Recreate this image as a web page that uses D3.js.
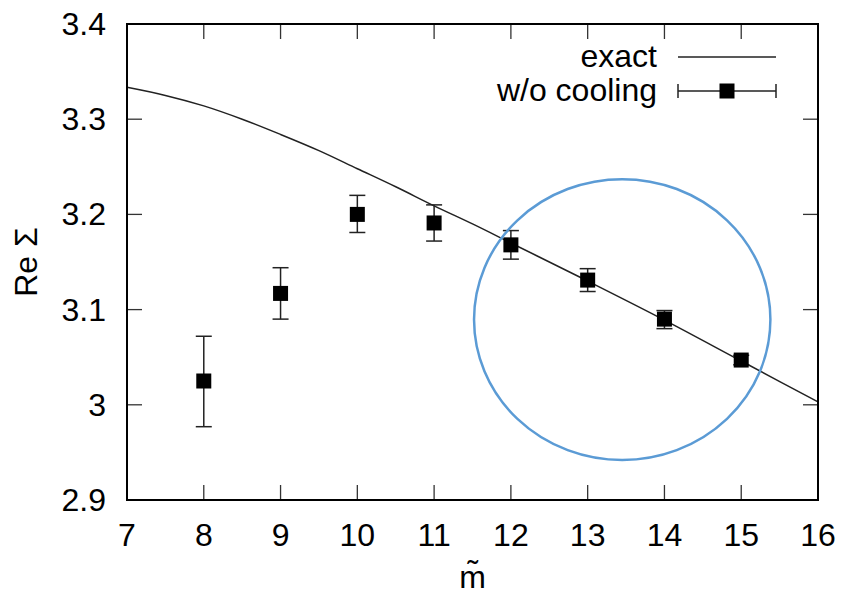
<!DOCTYPE html>
<html>
<head>
<meta charset="utf-8">
<script src="https://cdn.jsdelivr.net/npm/d3@7"></script>
<style>
  body { margin: 0; background: #fff; }
  svg { font-family: "Liberation Sans", Arial, sans-serif; }
</style>
</head>
<body>
<svg width="846" height="597"></svg>
<script>
// Data
var mValues = [8, 9, 10, 11, 12, 13, 14, 15];
var reSigma = [3.025, 3.117, 3.200, 3.191, 3.168, 3.131, 3.090, 3.047];
var errLow = [2.977, 3.090, 3.181, 3.172, 3.153, 3.119, 3.080, 3.042];
var errHigh = [3.072, 3.144, 3.220, 3.210, 3.183, 3.143, 3.099, 3.052];

var exactM = [7, 7.5, 8, 8.5, 9, 9.5, 10, 10.5, 11, 11.5, 12, 13, 14, 15, 16];
var exactRe = [3.3335, 3.325, 3.314, 3.300, 3.284, 3.267, 3.248, 3.229, 3.209, 3.190, 3.170, 3.130, 3.089, 3.046, 3.003];

var xTicks = [7, 8, 9, 10, 11, 12, 13, 14, 15, 16];
var yTicks = [2.9, 3.0, 3.1, 3.2, 3.3, 3.4];

// highlight ellipse in data units: centre m, centre value, half-width, half-height
var ellipse = { m: 13.45, v: 3.0895, rm: 1.93, rv: 0.1475 };

var svg = d3.select("svg");
const width = 846;
const height = 597;
const margin = { top: 24, bottom: 97, left: 127, right: 28 };
const innerW = width - margin.left - margin.right;
const innerH = height - margin.top - margin.bottom;

var xScale = d3.scaleLinear().domain([7, 16]).range([0, innerW]);
var yScale = d3.scaleLinear().domain([2.9, 3.4]).range([innerH, 0]);

var g = svg.append("g").attr("transform", `translate(${margin.left},${margin.top})`);

const fontSize = 32;
const tickLen = 15;

// inward ticks on all four sides
g.selectAll(".xtick-b").data(xTicks.slice(1, -1)).join("line")
  .attr("x1", d => xScale(d)).attr("x2", d => xScale(d))
  .attr("y1", innerH).attr("y2", innerH - tickLen)
  .attr("stroke", "#333").attr("stroke-width", 1.3);
g.selectAll(".xtick-t").data(xTicks.slice(1, -1)).join("line")
  .attr("x1", d => xScale(d)).attr("x2", d => xScale(d))
  .attr("y1", 0).attr("y2", tickLen)
  .attr("stroke", "#333").attr("stroke-width", 1.3);
g.selectAll(".ytick-l").data(yTicks.slice(1, -1)).join("line")
  .attr("x1", 0).attr("x2", tickLen)
  .attr("y1", d => yScale(d)).attr("y2", d => yScale(d))
  .attr("stroke", "#333").attr("stroke-width", 1.3);
g.selectAll(".ytick-r").data(yTicks.slice(1, -1)).join("line")
  .attr("x1", innerW).attr("x2", innerW - tickLen)
  .attr("y1", d => yScale(d)).attr("y2", d => yScale(d))
  .attr("stroke", "#333").attr("stroke-width", 1.3);

// tick labels
g.selectAll(".xlabel").data(xTicks).join("text")
  .attr("x", d => xScale(d)).attr("y", innerH + 46)
  .attr("text-anchor", "middle").attr("font-size", fontSize)
  .text(d => d);
g.selectAll(".ylabel").data(yTicks).join("text")
  .attr("x", -21).attr("y", d => yScale(d) + 11)
  .attr("text-anchor", "end").attr("font-size", fontSize)
  .text(d => (d === 3 ? "3" : d.toFixed(1)));

// axis titles
svg.append("text")
  .attr("transform", `translate(37, ${margin.top + innerH / 2}) rotate(-90)`)
  .attr("text-anchor", "middle").attr("font-size", fontSize)
  .text("Re Σ");
svg.append("text")
  .attr("x", margin.left + innerW / 2).attr("y", 588)
  .attr("text-anchor", "middle").attr("font-size", fontSize)
  .text("m\u0303");

// exact curve
var line = d3.line().x(d => xScale(d[0])).y(d => yScale(d[1])).curve(d3.curveMonotoneX);
g.append("path")
  .datum(exactM.map((m, i) => [m, exactRe[i]]))
  .attr("d", line)
  .attr("fill", "none").attr("stroke", "#222").attr("stroke-width", 1.5);

// error bars
var pts = mValues.map((m, i) => ({ m: m, v: reSigma[i], lo: errLow[i], hi: errHigh[i] }));
const cap = 8;
const sq = 15;
g.selectAll(".err").data(pts).join("line")
  .attr("x1", d => xScale(d.m)).attr("x2", d => xScale(d.m))
  .attr("y1", d => yScale(d.lo)).attr("y2", d => yScale(d.hi))
  .attr("stroke", "#222").attr("stroke-width", 1.5);
g.selectAll(".cap-hi").data(pts).join("line")
  .attr("x1", d => xScale(d.m) - cap).attr("x2", d => xScale(d.m) + cap)
  .attr("y1", d => yScale(d.hi)).attr("y2", d => yScale(d.hi))
  .attr("stroke", "#222").attr("stroke-width", 1.5);
g.selectAll(".cap-lo").data(pts).join("line")
  .attr("x1", d => xScale(d.m) - cap).attr("x2", d => xScale(d.m) + cap)
  .attr("y1", d => yScale(d.lo)).attr("y2", d => yScale(d.lo))
  .attr("stroke", "#222").attr("stroke-width", 1.5);
g.selectAll(".pt").data(pts).join("rect")
  .attr("x", d => xScale(d.m) - sq / 2).attr("y", d => yScale(d.v) - sq / 2)
  .attr("width", sq).attr("height", sq).attr("fill", "#000");

// blue highlight ellipse
g.append("ellipse")
  .attr("cx", xScale(ellipse.m)).attr("cy", yScale(ellipse.v))
  .attr("rx", xScale(ellipse.m + ellipse.rm) - xScale(ellipse.m))
  .attr("ry", yScale(ellipse.v - ellipse.rv) - yScale(ellipse.v))
  .attr("fill", "none").attr("stroke", "#5b9bd5").attr("stroke-width", 2.5);

// frame
g.append("rect").attr("width", innerW).attr("height", innerH)
  .attr("fill", "none").attr("stroke", "#000").attr("stroke-width", 2);

// legend
var legend = svg.append("g");
legend.append("text").attr("x", 657).attr("y", 67)
  .attr("text-anchor", "end").attr("font-size", fontSize).text("exact");
legend.append("line").attr("x1", 678).attr("x2", 776).attr("y1", 57).attr("y2", 57)
  .attr("stroke", "#222").attr("stroke-width", 1.5);
legend.append("text").attr("x", 657).attr("y", 101)
  .attr("text-anchor", "end").attr("font-size", fontSize).text("w/o cooling");
legend.append("line").attr("x1", 678).attr("x2", 776).attr("y1", 91).attr("y2", 91)
  .attr("stroke", "#222").attr("stroke-width", 1.5);
legend.append("line").attr("x1", 678).attr("x2", 678).attr("y1", 84).attr("y2", 98)
  .attr("stroke", "#222").attr("stroke-width", 1.5);
legend.append("line").attr("x1", 776).attr("x2", 776).attr("y1", 84).attr("y2", 98)
  .attr("stroke", "#222").attr("stroke-width", 1.5);
legend.append("rect").attr("x", 727 - sq / 2).attr("y", 91 - sq / 2)
  .attr("width", sq).attr("height", sq).attr("fill", "#000");
</script>
</body>
</html>
